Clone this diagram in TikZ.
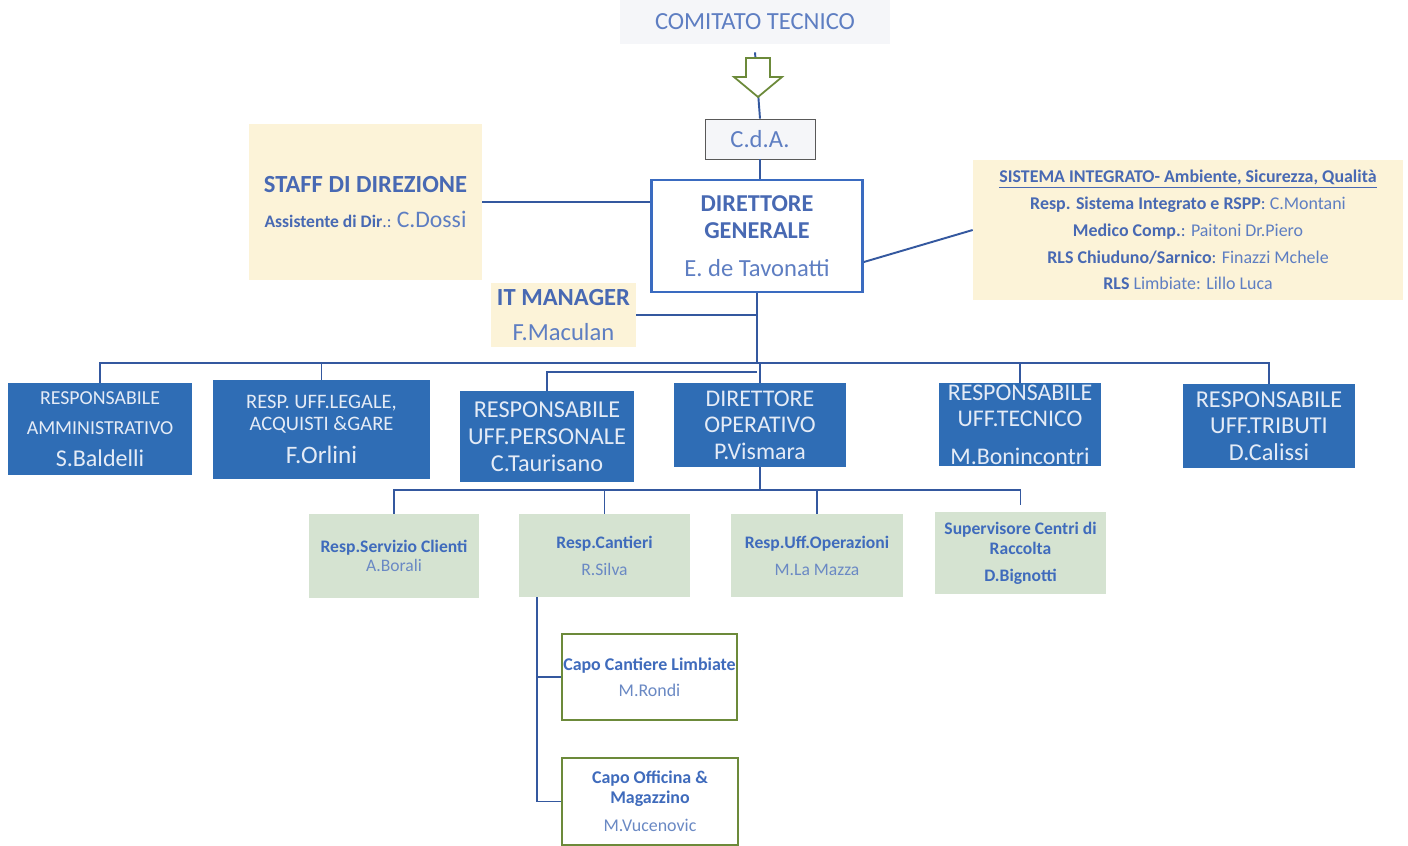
\documentclass[tikz,border=0pt]{standalone}
\usepackage{fontspec}
\setmainfont{Carlito}
\begin{document}
\begin{tikzpicture}[x=0.02cm, y=-0.02cm,
  conn/.style={draw=lineblue, line width=1.1pt},
  boxblue/.style={fill=fillblue, text=textwhite, align=center, inner sep=0pt},
  boxyellow/.style={fill=fillyellow, text=titleblue, align=center, inner sep=0pt},
  boxgreen/.style={fill=fillgreen, text=namegreen, align=center, inner sep=0pt},
  boxolive/.style={draw=oliveline, line width=1pt, fill=white, text=namegreen, align=center, inner sep=0pt}]
\definecolor{lineblue}{HTML}{34589F}
\definecolor{fillblue}{HTML}{2F6DB5}
\definecolor{textwhite}{HTML}{E4EBF6}
\definecolor{fillyellow}{HTML}{FCF3D8}
\definecolor{titleblue}{HTML}{4869B3}
\definecolor{lightname}{HTML}{5E7EC2}
\definecolor{fillgreen}{HTML}{D5E3D1}
\definecolor{namegreen}{HTML}{6A89C4}
\definecolor{boldgreen}{HTML}{3F6BBC}
\definecolor{oliveline}{HTML}{6C8A3A}
\definecolor{dgblue}{HTML}{3A6BC0}
\definecolor{faint}{HTML}{F5F6F9}
\useasboundingbox (0,0) rectangle (1408,845);
\fill[white] (0,0) rectangle (1408,845);
\node[fill=faint, text=lightname, minimum width=5.4cm, minimum height=0.9cm, font=\fontsize{14}{16}\selectfont] (comitato) at (755,22) {COMITATO TECNICO};
\node[draw=black!65, fill=faint, text=lightname, minimum width=2.2cm, minimum height=0.8cm, font=\fontsize{14}{16}\selectfont] (cda) at (760,139) {C.d.A.};
\node[draw=dgblue, line width=1.6pt, fill=white, text=titleblue, align=center, minimum width=4.22cm, minimum height=2.24cm, font=\fontsize{13.8}{15.3}\selectfont] (dg) at (757,236) {\textbf{DIRETTORE}\\\textbf{GENERALE}\\[6pt]\textcolor{lightname}{\fontsize{14}{15.3}\selectfont E. de Tavonatti}};
\node[boxyellow, minimum width=4.66cm, minimum height=3.12cm] (staff) at (365.5,202) {{\fontsize{14}{16}\selectfont\bfseries STAFF DI DIREZIONE}\\[8pt]{\fontsize{10}{12}\selectfont\textbf{Assistente di Dir}.: }{\fontsize{13.5}{15}\selectfont\color{lightname}C.Dossi}};
\node[boxyellow, minimum width=8.6cm, minimum height=2.8cm, font=\fontsize{10.2}{15.3}\selectfont] (sist) at (1188,230) {\textbf{\underline{SISTEMA INTEGRATO- Ambiente, Sicurezza, Qualità}}\\\textbf{Resp. Sistema Integrato e RSPP}: \textcolor{lightname}{C.Montani}\\\textbf{Medico Comp.}: \textcolor{lightname}{Paitoni Dr.Piero}\\\textbf{RLS Chiuduno/Sarnico}: \textcolor{lightname}{Finazzi Mchele}\\\textbf{RLS} \textcolor{lightname}{Limbiate: Lillo Luca}};
\node[boxyellow, minimum width=2.9cm, minimum height=1.28cm, font=\fontsize{14}{16}\selectfont] (it) at (563.5,315) {\textbf{IT MANAGER}\\[4pt]\textcolor{lightname}{F.Maculan}};
\node[boxblue, minimum width=3.68cm, minimum height=1.84cm, font=\fontsize{11.3}{17}\selectfont] (bald) at (100,429) {RESPONSABILE\\AMMINISTRATIVO\\[1pt]{\fontsize{13.7}{15}\selectfont S.Baldelli}};
\node[boxblue, minimum width=4.34cm, minimum height=1.98cm, font=\fontsize{11.7}{12.5}\selectfont] (orl) at (321.5,429.5) {RESP. UFF.LEGALE,\\ACQUISTI \&GARE\\[6pt]{\fontsize{14.3}{15}\selectfont F.Orlini}};
\node[boxblue, minimum width=3.48cm, minimum height=1.82cm, font=\fontsize{13.8}{15.3}\selectfont] (taur) at (547,436.5) {RESPONSABILE\\UFF.PERSONALE\\C.Taurisano};
\node[boxblue, minimum width=3.46cm, minimum height=1.68cm, font=\fontsize{13.6}{15}\selectfont] (dop) at (760,425) {DIRETTORE\\OPERATIVO\\P.Vismara};
\node[boxblue, minimum width=3.24cm, minimum height=1.66cm, font=\fontsize{13.6}{15.3}\selectfont] (bon) at (1020,424.5) {RESPONSABILE\\UFF.TECNICO\\[6pt]M.Bonincontri};
\node[boxblue, minimum width=3.44cm, minimum height=1.68cm, font=\fontsize{13.8}{15}\selectfont] (cal) at (1269,426) {RESPONSABILE\\UFF.TRIBUTI\\D.Calissi};
\node[boxgreen, minimum width=3.4cm, minimum height=1.68cm, font=\fontsize{10}{10.8}\selectfont] (bor) at (394,556) {\textcolor{boldgreen}{\textbf{Resp.Servizio Clienti}}\\A.Borali};
\node[boxgreen, minimum width=3.42cm, minimum height=1.66cm, font=\fontsize{10}{15.3}\selectfont] (sil) at (604.5,555.5) {\textcolor{boldgreen}{\textbf{Resp.Cantieri}}\\R.Silva};
\node[boxgreen, minimum width=3.44cm, minimum height=1.66cm, font=\fontsize{10}{15.3}\selectfont] (laz) at (817,555.5) {\textcolor{boldgreen}{\textbf{Resp.Uff.Operazioni}}\\M.La Mazza};
\node[boxgreen, text=boldgreen, minimum width=3.42cm, minimum height=1.64cm, font=\fontsize{10}{11.3}\selectfont\bfseries] (big) at (1020.5,553) {Supervisore Centri di\\Raccolta\\[4pt]D.Bignotti};
\node[boxolive, minimum width=3.5cm, minimum height=1.72cm, font=\fontsize{10.2}{14.7}\selectfont] (ron) at (649.5,677) {\textcolor{boldgreen}{\textbf{Capo Cantiere Limbiate}}\\M.Rondi};
\node[boxolive, minimum width=3.52cm, minimum height=1.74cm, font=\fontsize{10.2}{11.5}\selectfont] (vuc) at (650,801.5) {\textcolor{boldgreen}{\textbf{Capo Officina \&}}\\\textcolor{boldgreen}{\textbf{Magazzino}}\\[4.4pt]M.Vucenovic};
\coordinate (bus) at (757,363);
\coordinate (bus2) at (757,372);
\coordinate (obus) at (760,490);
\draw[conn] ([yshift=-0.15cm]comitato.south) -- (cda.north);
\draw[draw=oliveline, fill=white, line width=1pt] (746,58) -- (770,58) -- (770,77) -- (782,77) -- (758,97) -- (734,77) -- (746,77) -- cycle;
\draw[conn] (cda.south) -- (cda.south |- dg.north);
\draw[conn] (staff.east) -- (staff.east -| dg.west);
\draw[conn] ([yshift=-0.52cm]dg.east) -- (sist.west);
\draw[conn] (it.east) -- (it.east -| dg.south);
\draw[conn] (dg.south) -- (bus) -| (dop.north);
\draw[conn] (bald.north) |- (bus) -| (cal.north);
\draw[conn] (orl.north) -- (orl.north |- bus);
\draw[conn] (bon.north) -- (bon.north |- bus);
\draw[conn] (taur.north) |- (bus2);
\draw[conn] (dop.south) -- (obus);
\draw[conn] (bor.north) |- (obus) -| ([yshift=0.14cm]big.north);
\draw[conn] (sil.north) -- (sil.north |- obus);
\draw[conn] (laz.north) -- (laz.north |- obus);
\draw[conn] ([xshift=0.36cm]sil.south west) |- (ron.west);
\draw[conn] ([xshift=0.36cm]sil.south west) |- (vuc.west);
\end{tikzpicture}
\end{document}
